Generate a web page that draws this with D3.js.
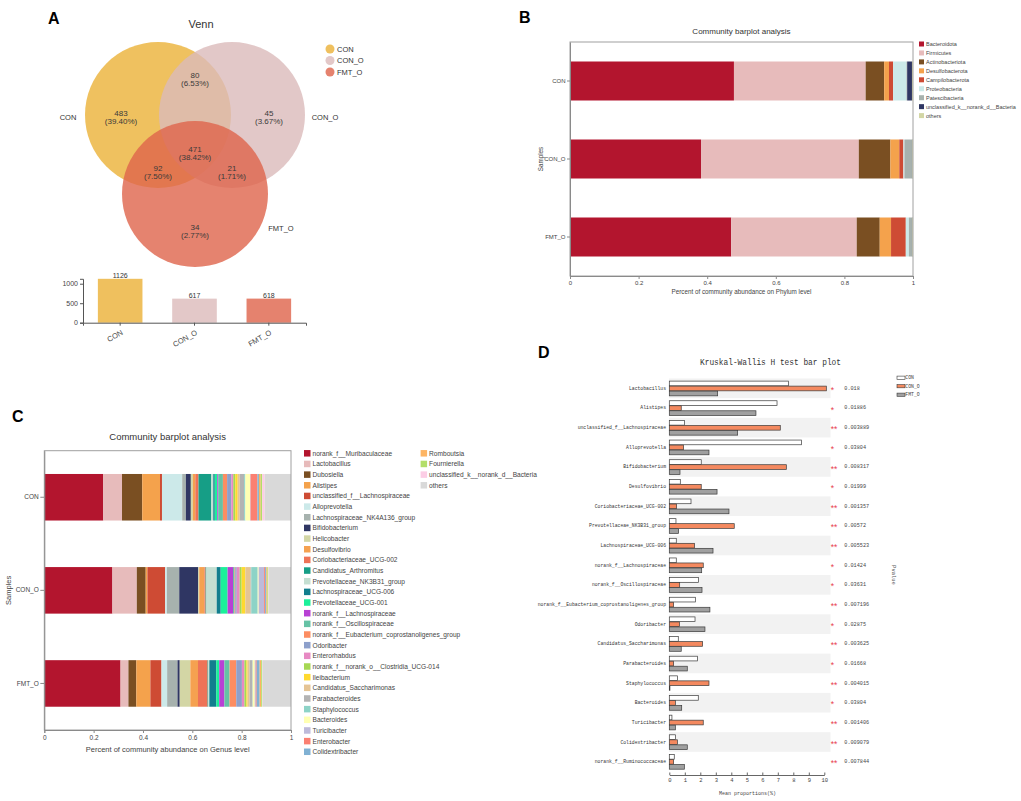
<!DOCTYPE html>
<html>
<head>
<meta charset="utf-8">
<script src="https://cdn.jsdelivr.net/npm/d3@7/dist/d3.min.js"></script>
<style>
html,body{margin:0;padding:0;background:#fff;}
svg{display:block;}
</style>
</head>
<body>
<svg id="chart" width="1021" height="801"></svg>
<script>
// ================= DATA =================
const sampleNames = ["CON", "CON_O", "FMT_O"];

// Panel A – Venn
const vennRegionCounts = [483, 45, 34, 80, 92, 21, 471];
const vennRegionPercents = ["39.40%", "3.67%", "2.77%", "6.53%", "7.50%", "1.71%", "38.42%"];
const vennSetTotals = [1126, 617, 618];
const vennTicks = [0, 500, 1000];

// Panel B – phylum level
const phylumNames = ["Bacteroidota", "Firmicutes", "Actinobacteriota", "Desulfobacterota", "Campilobacterota",
  "Proteobacteria", "Patescibacteria", "unclassified_k__norank_d__Bacteria", "others"];
const phylumCON   = [0.478, 0.384, 0.054, 0.014, 0.012, 0.039, 0.002, 0.014, 0.003];
const phylumCON_O = [0.382, 0.460, 0.092, 0.026, 0.012, 0.003, 0.022, 0.001, 0.002];
const phylumFMT_O = [0.470, 0.366, 0.067, 0.033, 0.043, 0.009, 0.009, 0.001, 0.002];

// Panel C – genus level
const genusNames = ["norank_f__Muribaculaceae", "Lactobacillus", "Dubosiella", "Alistipes",
  "unclassified_f__Lachnospiraceae", "Alloprevotella", "Lachnospiraceae_NK4A136_group", "Bifidobacterium",
  "Helicobacter", "Desulfovibrio", "Coriobacteriaceae_UCG-002", "Candidatus_Arthromitus",
  "Prevotellaceae_NK3B31_group", "Lachnospiraceae_UCG-006", "Prevotellaceae_UCG-001", "norank_f__Lachnospiraceae",
  "norank_f__Oscillospiraceae", "norank_f__Eubacterium_coprostanoligenes_group", "Odoribacter", "Enterorhabdus",
  "norank_f__norank_o__Clostridia_UCG-014", "Ileibacterium", "Candidatus_Saccharimonas", "Parabacteroides",
  "Staphylococcus", "Bacteroides", "Turicibacter", "Enterobacter", "Colidextribacter",
  "Romboutsia", "Fournierella", "unclassified_k__norank_d__Bacteria", "others"];
const genusCON   = [0.239,0.076,0.082,0.072,0.008,0.082,0.015,0.020,0.008,0.010,0.013,0.052,0.008,0.006,0.010,0.004,0.019,0.017,0.017,0.008,0.008,0.010,0.008,0.018,0.005,0.019,0.002,0.028,0.006,0.007,0.006,0.010,0.107];
const genusCON_O = [0.276,0.099,0.036,0.007,0.072,0.007,0.050,0.077,0.004,0.021,0.005,0.003,0.042,0.016,0.028,0.022,0.006,0.003,0.006,0.012,0.008,0.015,0.021,0.003,0.026,0.004,0.022,0.004,0.005,0.004,0.004,0.002,0.090];
const genusFMT_O = [0.309,0.032,0.032,0.057,0.045,0.023,0.042,0.009,0.043,0.031,0.039,0.002,0.005,0.028,0.012,0.021,0.021,0.027,0.023,0.010,0.008,0.005,0.008,0.012,0.001,0.008,0.004,0.004,0.012,0.006,0.004,0.001,0.116];
const abundanceTicks = [0, 0.2, 0.4, 0.6, 0.8, 1];

// Panel D – Kruskal-Wallis
const kwTaxa = ["Lactobacillus", "Alistipes", "unclassified_f__Lachnospiraceae", "Alloprevotella", "Bifidobacterium",
  "Desulfovibrio", "Coriobacteriaceae_UCG-002", "Prevotellaceae_NK3B31_group", "Lachnospiraceae_UCG-006",
  "norank_f__Lachnospiraceae", "norank_f__Oscillospiraceae", "norank_f__Eubacterium_coprostanoligenes_group",
  "Odoribacter", "Candidatus_Saccharimonas", "Parabacteroides", "Staphylococcus", "Bacteroides",
  "Turicibacter", "Colidextribacter", "norank_f__Ruminococcaceae"];
const kwCON   = [7.68,6.95,0.99,8.52,2.06,0.71,1.40,0.43,0.45,0.45,1.89,1.68,1.66,0.58,1.81,0.52,1.87,0.17,0.39,0.32];
const kwCON_O = [10.13,0.77,7.16,0.92,7.55,2.06,0.47,4.19,1.63,2.19,0.67,0.28,0.65,2.15,0.28,2.56,0.39,2.19,0.52,0.28];
const kwFMT_O = [3.12,5.59,4.41,2.56,0.69,3.08,3.85,0.60,2.82,2.09,2.11,2.62,2.30,0.77,1.16,0.04,0.80,0.39,1.16,0.97];
const kwPvalues = ["0.018","0.01886","0.003889","0.03804","0.008317","0.01999","0.001357","0.00572","0.005523","0.01424",
  "0.03631","0.007196","0.02875","0.003625","0.01668","0.004015","0.03804","0.001406","0.009079","0.007844"];
const kwStars = ["*","*","**","*","**","*","**","**","**","*","*","**","*","**","*","**","*","**","**","**"];
const kwTicks = [0,1,2,3,4,5,6,7,8,9,10];

// ================= STYLE =================
const SANS = "'Liberation Sans', Arial, sans-serif";
const MONO = "'Liberation Mono', 'DejaVu Sans Mono', monospace";
const vennFill = ["#EBB137", "#DBBABA", "#DE644B"];
const vennBarFill = ["#EFC05E", "#E3C8C8", "#E5826E"];
const palette = ["#B3152E","#E7BBBB","#7A4F22","#F4A24C","#CE4B34","#CCE9E9","#A7B2AE","#2F3663","#D3D6A5",
  "#F5A150","#EE7357","#169E86","#C5DFD2","#127E8E","#1CF09A","#B841D4","#66C2A5","#FC8D62","#8DA0CB",
  "#E78AC3","#A6D854","#FFD92F","#E5C494","#B3B3B3","#8DD3C7","#FFFFB3","#BEBADA","#FB8072","#80B1D3",
  "#FDB462","#B3DE69","#FCCDE5","#D9D9D9"];
const phylumColors = ["#B3152E","#E7BBBB","#7A4F22","#F4A24C","#CE4B34","#CCE9E9","#A7B2AE","#2F3663","#D3D6A5"];
const kwFill = ["#FFFFFF", "#F4895F", "#A0A0A0"];

const svg = d3.select("#chart");
svg.append("rect").attr("width", 1021).attr("height", 801).attr("fill", "#fff");

function letter(t, x, y) {
  svg.append("text").attr("x", x).attr("y", y).text(t)
    .attr("font-family", SANS).attr("font-size", 16).attr("font-weight", "bold").attr("fill", "#000");
}
letter("A", 48, 24); letter("B", 519, 23); letter("C", 12, 422); letter("D", 538, 358);

function styleAxis(g, size, fam, col) {
  g.attr("font-family", fam || SANS).attr("font-size", size);
  g.selectAll("path.domain").attr("stroke", col || "#8a8a8a");
  g.selectAll(".tick line").attr("stroke", col || "#8a8a8a");
  g.selectAll(".tick text").attr("fill", "#444");
}

// ================= PANEL A =================
(function () {
  const g = svg.append("g");
  g.append("text").attr("x", 201).attr("y", 28).attr("text-anchor", "middle")
    .attr("font-family", SANS).attr("font-size", 11).attr("fill", "#333").text("Venn");

  // layout of the three circles
  const R = 73, cxMid = 195, topY = 115, dx = 37, dy = 79;
  const centers = [[cxMid - dx, topY], [cxMid + dx, topY], [cxMid, topY + dy]];
  g.selectAll("circle.venn").data(sampleNames).join("circle").attr("class", "venn")
    .attr("cx", (d, i) => centers[i][0]).attr("cy", (d, i) => centers[i][1]).attr("r", R)
    .attr("fill", (d, i) => vennFill[i]).attr("fill-opacity", 0.8);

  // set labels
  const setLabelPos = [[centers[0][0] - 90, topY + 2], [centers[1][0] + 93, topY + 2], [centers[2][0] + 86, centers[2][1] + 34]];
  g.selectAll("text.setlab").data(sampleNames).join("text").attr("class", "setlab")
    .attr("x", (d, i) => setLabelPos[i][0]).attr("y", (d, i) => setLabelPos[i][1])
    .attr("text-anchor", "middle").attr("dominant-baseline", "central")
    .attr("font-family", SANS).attr("font-size", 7.5).attr("fill", "#333").text(d => d);

  // region labels
  const regionPos = [
    [centers[0][0] - 37, topY + 2],
    [centers[1][0] + 37, topY + 2],
    [centers[2][0], centers[2][1] + 37],
    [cxMid, topY - 36],
    [centers[0][0], centers[2][1] - 22],
    [centers[1][0], centers[2][1] - 22],
    [cxMid, topY + 38]
  ];
  const rl = g.selectAll("g.reg").data(vennRegionCounts).join("g").attr("class", "reg")
    .attr("transform", (d, i) => `translate(${regionPos[i][0]},${regionPos[i][1]})`);
  rl.append("text").attr("text-anchor", "middle").attr("y", -4).attr("dominant-baseline", "central")
    .attr("font-family", SANS).attr("font-size", 8).attr("fill", "#3a3a3a").text(d => d);
  rl.append("text").attr("text-anchor", "middle").attr("y", 4).attr("dominant-baseline", "central")
    .attr("font-family", SANS).attr("font-size", 8).attr("fill", "#3a3a3a").text((d, i) => "(" + vennRegionPercents[i] + ")");

  // legend
  const lg = g.selectAll("g.leg").data(sampleNames).join("g").attr("class", "leg")
    .attr("transform", (d, i) => `translate(330,${49 + i * 11.5})`);
  lg.append("circle").attr("r", 4.5).attr("fill", (d, i) => vennBarFill[i]);
  lg.append("text").attr("x", 7).attr("dominant-baseline", "central").attr("font-family", SANS)
    .attr("font-size", 7.5).attr("fill", "#333").text(d => d);

  // bar chart of set sizes
  const x = d3.scaleBand().domain(sampleNames).range([83, 306]).paddingInner(0.4).paddingOuter(0.2);
  const y = d3.scaleLinear().domain([0, 1126]).range([322.7, 278.8]);
  g.selectAll("rect.sz").data(vennSetTotals).join("rect").attr("class", "sz")
    .attr("x", (d, i) => x(sampleNames[i])).attr("width", x.bandwidth())
    .attr("y", d => y(d)).attr("height", d => y(0) - y(d)).attr("fill", (d, i) => vennBarFill[i]);
  g.selectAll("text.sz").data(vennSetTotals).join("text").attr("class", "sz")
    .attr("x", (d, i) => x(sampleNames[i]) + x.bandwidth() / 2).attr("y", d => y(d) - 1)
    .attr("text-anchor", "middle").attr("font-family", SANS).attr("font-size", 7).attr("fill", "#333").text(d => d);
  const ya = g.append("g").attr("transform", "translate(83,0)")
    .call(d3.axisLeft(y).tickValues(vennTicks).tickFormat(d3.format("d")).tickSize(3).tickPadding(2));
  styleAxis(ya, 7, SANS, "#555");
  const xa = g.append("g").attr("transform", "translate(0,322.7)")
    .call(d3.axisBottom(x).tickSize(3));
  styleAxis(xa, 7.5, SANS, "#555");
  xa.selectAll(".tick text").attr("x", 0).attr("y", 0).attr("dy", "0.35em")
    .attr("text-anchor", "end").attr("transform", "translate(2,9) rotate(-30)");
})();

// ================= STACKED PANELS (B, C) =================
function stackPanel(o) {
  const g = svg.append("g");
  const x = d3.scaleLinear().domain([0, 1]).range([o.x0, o.x1]);
  const y = d3.scaleBand().domain(sampleNames).range([o.y0, o.y1]).paddingInner(0.5).paddingOuter(0.25);
  const rows = sampleNames.map((s, i) => {
    const r = { sample: s };
    o.names.forEach((n, j) => { r[n] = o.values[i][j]; });
    return r;
  });
  const series = d3.stack().keys(o.names)(rows);
  g.selectAll("g.ser").data(series).join("g").attr("class", "ser").attr("fill", (d, i) => o.colors[i])
    .selectAll("rect").data(d => d).join("rect")
    .attr("x", d => x(d[0])).attr("width", d => Math.max(0, x(d[1]) - x(d[0])))
    .attr("y", d => y(d.data.sample)).attr("height", y.bandwidth());

  g.append("rect").attr("x", o.x0).attr("y", o.y0).attr("width", o.x1 - o.x0).attr("height", o.y1 - o.y0)
    .attr("fill", "none").attr("stroke", "#a0a0a0").attr("stroke-width", 1);

  const xa = g.append("g").attr("transform", `translate(0,${o.y1})`)
    .call(d3.axisBottom(x).tickValues(abundanceTicks)
      .tickFormat(d => (d === 0 || d === 1) ? String(d) : d3.format(".1f")(d)).tickSize(3).tickPadding(2));
  styleAxis(xa, o.tickFont);
  const ya = g.append("g").attr("transform", `translate(${o.x0},0)`)
    .call(d3.axisLeft(y).tickSize(o.ytick).tickPadding(1.5).tickSizeOuter(0));
  styleAxis(ya, o.tickFont);

  g.append("text").attr("x", (o.x0 + o.x1) / 2).attr("y", o.titleY).attr("text-anchor", "middle")
    .attr("font-family", SANS).attr("font-size", o.titleFont).attr("fill", "#333").text("Community barplot analysis");
  g.append("text").attr("x", (o.x0 + o.x1) / 2).attr("y", o.xTitleY).attr("text-anchor", "middle")
    .attr("font-family", SANS).attr("font-size", o.axisFont).attr("fill", "#444").text(o.xTitle);
  g.append("text").attr("transform", `translate(${o.sampX},${(o.y0 + o.y1) / 2}) rotate(-90)`)
    .attr("text-anchor", "middle").attr("dominant-baseline", "central")
    .attr("font-family", SANS).attr("font-size", o.axisFont).attr("fill", "#444").text("Samples");

  // legend
  const lg = g.selectAll("g.lg").data(o.names).join("g").attr("class", "lg")
    .attr("transform", (d, i) => {
      const col = Math.floor(i / o.perCol), row = i % o.perCol;
      return `translate(${o.legX + col * o.legColW},${o.legY + row * o.legStep})`;
    });
  lg.append("rect").attr("x", 0).attr("y", -o.sq / 2).attr("width", o.sq).attr("height", o.sq)
    .attr("fill", (d, i) => o.colors[i]);
  lg.append("text").attr("x", o.sq + 2).attr("dominant-baseline", "central")
    .attr("font-family", SANS).attr("font-size", o.legFont).attr("fill", "#444").text(d => d);
}

stackPanel({
  x0: 570, x1: 913, y0: 42, y1: 276,
  names: phylumNames, values: [phylumCON, phylumCON_O, phylumFMT_O], colors: phylumColors,
  tickFont: 6, ytick: 3, titleY: 33.5, titleFont: 8, axisFont: 6.3, xTitleY: 294,
  xTitle: "Percent of community abundance on Phylum level", sampX: 540,
  legX: 919, legY: 44, legStep: 8.95, perCol: 20, legColW: 0, sq: 5, legFont: 5.5
});

stackPanel({
  x0: 44.3, x1: 291, y0: 450.7, y1: 730,
  names: genusNames, values: [genusCON, genusCON_O, genusFMT_O], colors: palette,
  tickFont: 6.5, ytick: 4, titleY: 439.5, titleFont: 9.5, axisFont: 7.5, xTitleY: 752,
  xTitle: "Percent of community abundance on Genus level", sampX: 8.5,
  legX: 304, legY: 453.3, legStep: 10.66, perCol: 29, legColW: 116.6, sq: 6.5, legFont: 6.6
});

// ================= PANEL D =================
(function () {
  const g = svg.append("g");
  const x = d3.scaleLinear().domain([0, 10]).range([669.3, 824.3]);
  const y = d3.scaleBand().domain(kwTaxa).range([378.5, 771.5]);
  const inner = d3.scaleBand().domain(sampleNames).range([0, y.bandwidth()]).paddingOuter(0.46);
  const vals = [kwCON, kwCON_O, kwFMT_O];

  g.selectAll("rect.stripe").data(kwTaxa.filter((d, i) => i % 2 === 0)).join("rect").attr("class", "stripe")
    .attr("x", x(0) - 0.3).attr("width", x(10.42) - x(0)).attr("y", d => y(d)).attr("height", y.bandwidth())
    .attr("fill", "#F2F2F2");

  const rowG = g.selectAll("g.row").data(kwTaxa).join("g").attr("class", "row")
    .attr("transform", d => `translate(0,${y(d)})`);
  rowG.selectAll("rect").data((d, i) => sampleNames.map((s, k) => ({ s, k, v: vals[k][i] }))).join("rect")
    .attr("x", x(0)).attr("y", d => inner(d.s) + 0.3).attr("width", d => x(d.v) - x(0))
    .attr("height", inner.bandwidth() - 0.3)
    .attr("fill", d => kwFill[d.k]).attr("stroke", "#3a3a3a").attr("stroke-width", 0.7);

  // taxon labels
  g.selectAll("text.tax").data(kwTaxa).join("text").attr("class", "tax")
    .attr("x", 666).attr("y", d => y(d) + y.bandwidth() / 2).attr("text-anchor", "end")
    .attr("dominant-baseline", "central").attr("font-family", MONO).attr("font-size", 5.7)
    .attr("textLength", d => d.length * 2.85).attr("lengthAdjust", "spacingAndGlyphs")
    .attr("fill", "#333").text(d => d);

  // significance stars
  g.selectAll("text.star").data(kwStars).join("text").attr("class", "star")
    .attr("x", 830.8).attr("y", (d, i) => y(kwTaxa[i]) + y.bandwidth() / 2 + 4.6)
    .attr("font-family", SANS).attr("font-size", 8.5).attr("fill", "#E8424F").text(d => d);

  // p-values
  g.selectAll("text.pv").data(kwPvalues).join("text").attr("class", "pv")
    .attr("x", 844.3).attr("y", (d, i) => y(kwTaxa[i]) + y.bandwidth() / 2)
    .attr("dominant-baseline", "central").attr("font-family", MONO).attr("font-size", 6)
    .attr("textLength", d => d.length * 3.1).attr("lengthAdjust", "spacingAndGlyphs")
    .attr("fill", "#444").text(d => d);

  // x axis
  const xa = g.append("g").attr("transform", "translate(0,775)")
    .call(d3.axisBottom(x).tickValues(kwTicks).tickSize(-2.5).tickSizeOuter(0).tickPadding(3));
  styleAxis(xa, 5.5, MONO, "#666");

  g.append("text").attr("x", 747.5).attr("y", 795).attr("text-anchor", "middle")
    .attr("font-family", MONO).attr("font-size", 5.8).attr("textLength", 57).attr("lengthAdjust", "spacingAndGlyphs")
    .attr("fill", "#444").text("Mean proportions(%)");

  g.append("text").attr("x", 770.5).attr("y", 365).attr("text-anchor", "middle")
    .attr("font-family", MONO).attr("font-size", 9.5).attr("textLength", 141).attr("lengthAdjust", "spacingAndGlyphs")
    .attr("fill", "#333").text("Kruskal-Wallis H test bar plot");

  g.append("text").attr("transform", "translate(893,575) rotate(90)").attr("text-anchor", "middle")
    .attr("dominant-baseline", "central").attr("font-family", MONO).attr("font-size", 5.5)
    .attr("fill", "#555").text("Pvalue");

  // legend
  const lg = g.selectAll("g.kl").data(sampleNames).join("g").attr("class", "kl")
    .attr("transform", (d, i) => `translate(897,${377.7 + i * 8.5})`);
  lg.append("rect").attr("x", 0).attr("y", -1.6).attr("width", 8).attr("height", 3.2)
    .attr("fill", (d, i) => kwFill[i]).attr("stroke", "#3a3a3a").attr("stroke-width", 0.6);
  lg.append("text").attr("x", 8.3).attr("dominant-baseline", "central").attr("font-family", MONO)
    .attr("font-size", 4.8).attr("fill", "#444").text(d => d);
})();
</script>
</body>
</html>
